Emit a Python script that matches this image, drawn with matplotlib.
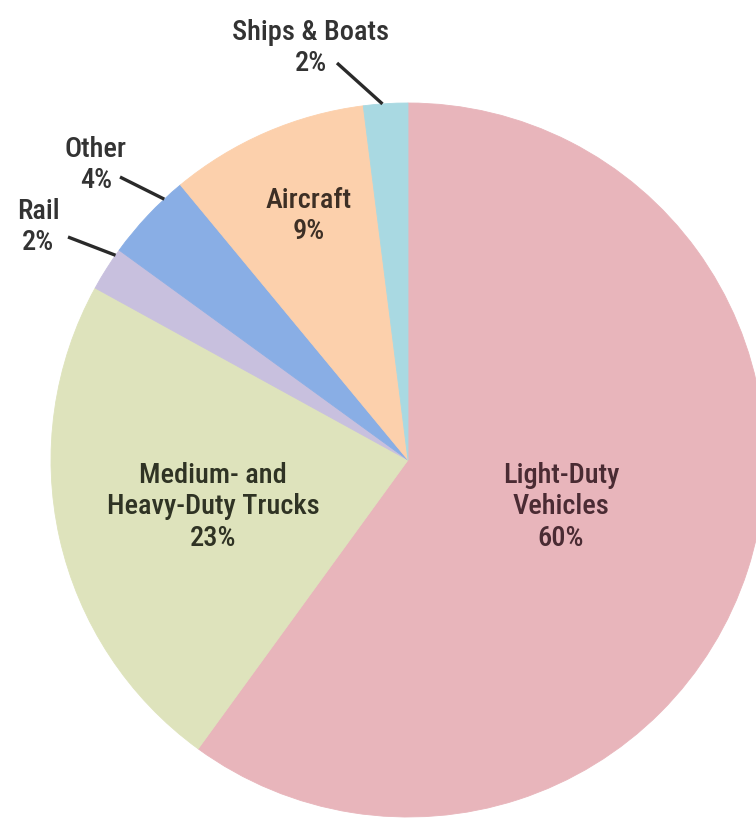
import numpy as np
import matplotlib
matplotlib.use("Agg")
import matplotlib.pyplot as plt
from matplotlib import font_manager

# Transportation energy use by mode (shares, percent)
categories = ["Light-Duty Vehicles", "Medium- and Heavy-Duty Trucks", "Rail",
              "Other", "Aircraft", "Ships & Boats"]
shares = [60, 23, 2, 4, 9, 2]
label_lines = [["Light-Duty", "Vehicles", "60%"],
               ["Medium- and", "Heavy-Duty Trucks", "23%"],
               ["Rail", "2%"], ["Other", "4%"], ["Aircraft", "9%"],
               ["Ships & Boats", "2%"]]
slice_colors = ["#E8B5BB", "#DEE3BC", "#C8C0DE", "#89AEE5", "#FCD0AC", "#A9D9E2"]
text_colors = ["#4a2b33", "#2f3324", "#333333", "#333333", "#3d2f25", "#333333"]

# prefer a narrow sans face that also ships a bold/medium cut
faces = font_manager.fontManager.ttflist
def weight_num(w):
    return w if isinstance(w, (int, float)) else font_manager.weight_dict.get(w, 400)
narrow = sorted({f.name for f in faces if "Narrow" in f.name or "Condensed" in f.name})
heavy = [n for n in narrow
         if any(f.name == n and 500 <= weight_num(f.weight) <= 700 for f in faces)]
pref = [n for n in ("Roboto Condensed", "Liberation Sans Narrow") if n in heavy]
chosen = (pref or heavy or narrow or ["Roboto"])[0]
family = [chosen, "DejaVu Sans"]
medium = [weight_num(f.weight) for f in faces
          if f.name == chosen and 500 <= weight_num(f.weight) <= 700]
weight = min(medium) if medium else "normal"

W, H = 756, 818
fig = plt.figure(figsize=(W / 100, H / 100), dpi=100)
ax = fig.add_axes([0, 0, 1, 1])

cx, cy, R = 408, H - 460, 357
wedges, _ = ax.pie(shares, colors=slice_colors, startangle=90, counterclock=False,
                   radius=R, center=(cx, cy),
                   wedgeprops=dict(linewidth=0.6, edgecolor="none"))
for w, c in zip(wedges, slice_colors):
    w.set_edgecolor(c)

ax.set_xlim(0, W)
ax.set_ylim(0, H)
ax.set_aspect("equal")
ax.axis("off")

# size the labels so the widest line spans about 213 px
renderer = fig.canvas.get_renderer()
probe = ax.text(0, 0, "Heavy-Duty Trucks", family=family, fontsize=20, weight=weight)
pw = probe.get_window_extent(renderer).width
probe.remove()
fsize = min(22.5, 20 * 213 / pw)
pitch = 31.5  # px between label lines

# label centres in pixel space (x, y from top)
label_pos = [(561, 504), (213, 504), (38, 224), (96, 162), (309, 213), (311, 45)]
for lines, (px, py), tc in zip(label_lines, label_pos, text_colors):
    n = len(lines)
    for k, line in enumerate(lines):
        ly = py + (k - (n - 1) / 2) * pitch
        ax.text(px, H - ly, line, color=tc, family=family, fontsize=fsize,
                weight=weight, ha="center", va="center_baseline")

# leader lines for the small outside-labelled slices
def edge_point(idx, frac):
    start = 90 - 3.6 * sum(shares[:idx])
    ang = np.deg2rad(start - 3.6 * shares[idx] * frac)
    return cx + R * np.cos(ang), cy + R * np.sin(ang)

leaders = {2: (0.86, (68, 237)), 3: (0.76, (120, 177)), 5: (0.43, (337, 63))}
for idx, (frac, (sx, sy)) in leaders.items():
    ex, ey = edge_point(idx, frac)
    ax.plot([sx, ex], [H - sy, ey], color="#2a2a2a", lw=2.4, solid_capstyle="butt")

fig.savefig("out.png", dpi=100)
